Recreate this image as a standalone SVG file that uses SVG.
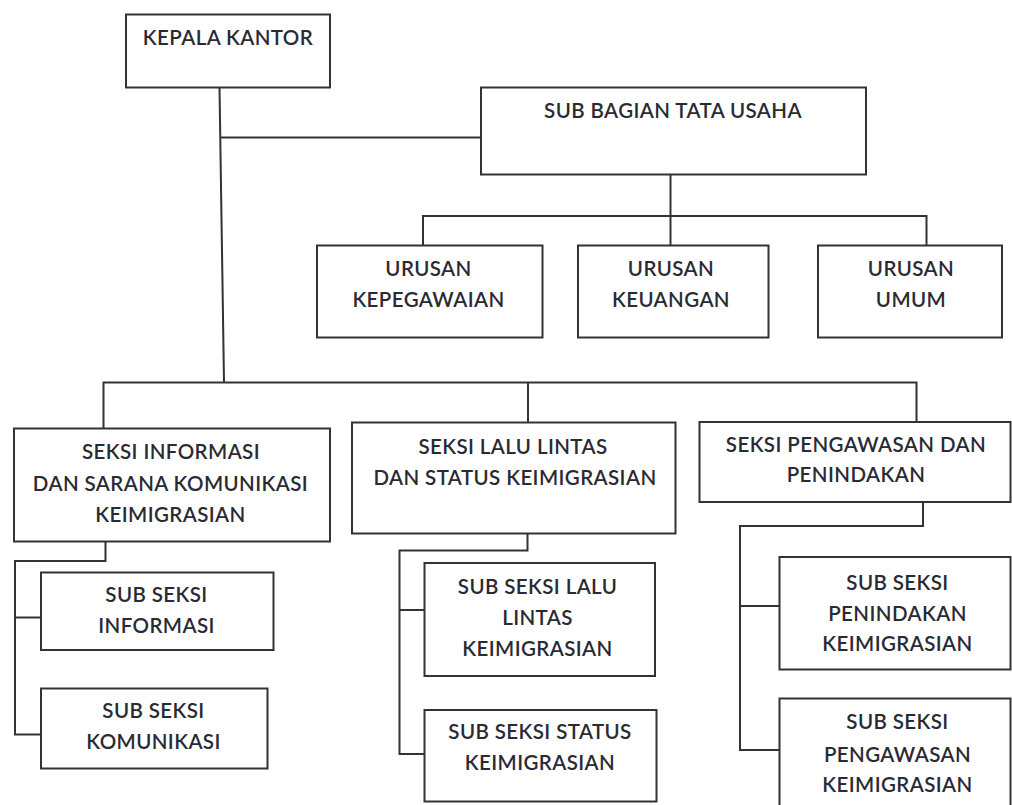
<svg xmlns="http://www.w3.org/2000/svg" width="1012" height="805" viewBox="0 0 1012 805">
<style>
.box{fill:#fff;stroke:#333;stroke-width:2}
.ln{fill:none;stroke:#333;stroke-width:2}
text{font-family:Lato,"Open Sans","Liberation Sans",sans-serif;font-size:20.5px;font-weight:600;letter-spacing:0.4px;fill:#2a2a33;text-anchor:middle}
</style>
<rect width="1012" height="805" fill="#fff"/>
<g id="connectors">
<path class="ln" d="M219.5 87 L224 382.5"/>
<path class="ln" d="M220.3 137.5 H481"/>
<path class="ln" d="M670.5 175 V245.5"/>
<path class="ln" d="M423 245.5 V216 H926.5 V245.5"/>
<path class="ln" d="M103.5 428 V382.5 H916.5 V421.5"/>
<path class="ln" d="M528 382.5 V422"/>
<path class="ln" d="M105.5 541.5 V561 H15 V734.5 H41 M15 617.5 H41"/>
<path class="ln" d="M527.5 533.5 V550.5 H399.5 V754 H424.5 M399.5 610 H424.5"/>
<path class="ln" d="M923 502 V526 H740 V750 H779.5 M740 606 H779.5"/>
</g>
<g id="kepala-kantor"><rect class="box" x="126" y="14.5" width="204" height="73"/><text x="228" y="44.5">KEPALA KANTOR</text></g>
<g id="sub-bagian-tata-usaha"><rect class="box" x="481" y="87.5" width="385" height="87"/><text x="673" y="117.5">SUB BAGIAN TATA USAHA</text></g>
<g id="urusan-kepegawaian"><rect class="box" x="317" y="245.5" width="225.5" height="92"/><text x="428.5" y="276">URUSAN</text><text x="428.5" y="307">KEPEGAWAIAN</text></g>
<g id="urusan-keuangan"><rect class="box" x="578" y="245.5" width="190.5" height="92"/><text x="671" y="276">URUSAN</text><text x="671" y="307">KEUANGAN</text></g>
<g id="urusan-umum"><rect class="box" x="818" y="245.5" width="184" height="92"/><text x="911" y="276">URUSAN</text><text x="911" y="307">UMUM</text></g>
<g id="seksi-informasi"><rect class="box" x="14" y="428.5" width="316" height="113"/><text x="171" y="458.5">SEKSI INFORMASI</text><text x="170.5" y="491">DAN SARANA KOMUNIKASI</text><text x="170.5" y="522">KEIMIGRASIAN</text></g>
<g id="sub-seksi-informasi"><rect class="box" x="41" y="572.5" width="232.5" height="77.5"/><text x="156.5" y="602">SUB SEKSI</text><text x="156.5" y="633">INFORMASI</text></g>
<g id="sub-seksi-komunikasi"><rect class="box" x="41" y="688.5" width="226.5" height="80"/><text x="153.5" y="717.5">SUB SEKSI</text><text x="153.5" y="748.5">KOMUNIKASI</text></g>
<g id="seksi-lalu-lintas"><rect class="box" x="352" y="422.5" width="323.5" height="111"/><text x="513" y="453.5">SEKSI LALU LINTAS</text><text x="515" y="485">DAN STATUS KEIMIGRASIAN</text></g>
<g id="sub-seksi-lalu-lintas"><rect class="box" x="424.5" y="563" width="230.5" height="113"/><text x="537.5" y="593.5">SUB SEKSI LALU</text><text x="537.5" y="625">LINTAS</text><text x="537.5" y="656">KEIMIGRASIAN</text></g>
<g id="sub-seksi-status"><rect class="box" x="424.5" y="710" width="232" height="91.5"/><text x="540" y="738.5">SUB SEKSI STATUS</text><text x="540" y="770">KEIMIGRASIAN</text></g>
<g id="seksi-pengawasan"><rect class="box" x="699.5" y="422" width="311" height="80"/><text x="856" y="452">SEKSI PENGAWASAN DAN</text><text x="856" y="482">PENINDAKAN</text></g>
<g id="sub-seksi-penindakan"><rect class="box" x="779.5" y="557" width="231" height="112.5"/><text x="897.5" y="590">SUB SEKSI</text><text x="897.5" y="621">PENINDAKAN</text><text x="897.5" y="651">KEIMIGRASIAN</text></g>
<g id="sub-seksi-pengawasan"><rect class="box" x="779.5" y="698.5" width="231" height="120"/><text x="897.5" y="728.5">SUB SEKSI</text><text x="897.5" y="762">PENGAWASAN</text><text x="897.5" y="792">KEIMIGRASIAN</text></g>
</svg>
